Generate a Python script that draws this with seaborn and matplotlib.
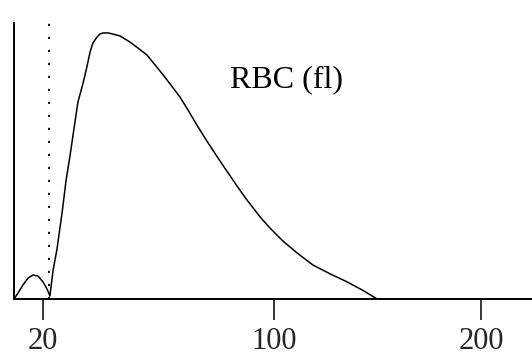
import numpy as np
import pandas as pd
import matplotlib
matplotlib.use("Agg")
import matplotlib.pyplot as plt
import seaborn as sns

# Data (volume in fl, relative count)
volume_fl = [0.0, 2.8, 6.2, 9.7, 13.1, 16.6, 20.0, 21.4, 22.4,
             23.5, 24.8, 26.6, 28.0, 29.4, 30.4, 32.1, 33.9, 35.2, 36.3,
             37.3, 38.7, 39.7, 40.8,
             42.5, 44.2, 46.7, 50.1, 52.9, 56.0, 58.8, 61.6, 64.3, 67.4,
             70.2, 73.3, 76.1, 79.2, 82.0, 84.8, 87.2, 90.6, 95.2, 98.6,
             104.3, 111.1, 118.8, 127.1, 135.3, 142.5, 149.8]
count = [0.0, 2.2, 5.1, 7.6, 8.7, 8.3, 6.2, 3.6, 1.1,
         10.5, 17.8, 31.2, 43.1, 52.2, 59.4, 71.4, 78.3, 84.1, 89.5,
         92.8, 94.9, 96.0, 96.4,
         96.4, 96.0, 95.3, 93.1, 90.9, 88.4, 84.8, 81.2, 77.5, 73.2,
         68.5, 63.0, 58.3, 53.3, 48.9, 44.6, 40.9, 35.9, 29.7, 25.7,
         21.0, 16.7, 12.3, 9.1, 6.2, 3.3, 0.0]
tick_values = [20, 100, 200]
tick_labels = ["20", "100", "200"]
threshold_fl = 22.2
label_text = "RBC (fl)"

# Non-uniform axis of the original drawing (piecewise linear)
knots_fl = np.array([0.0, 20.0, 100.0, 200.0, 300.0])
knots_pos = np.array([14.0, 43.0, 274.0, 481.0, 688.0])

def fwd(x):
    return np.interp(x, knots_fl, knots_pos)

def inv(t):
    return np.interp(t, knots_pos, knots_fl)

sns.set_style("white")
plt.rcParams["font.family"] = ["Liberation Serif", "DejaVu Serif"]

df = pd.DataFrame({"volume": volume_fl, "count": count})

fig = plt.figure(figsize=(5.32, 3.56), dpi=100)
ax = fig.add_axes([14 / 532, 1 - 299 / 356, 1 - 14 / 532, (299 - 10) / 356])

sns.lineplot(data=df, x="volume", y="count", ax=ax, color="black",
             linewidth=1.1, sort=False, estimator=None)

ax.set_xscale("function", functions=(fwd, inv))
ax.set_xlim(0, 224.6)
ax.set_ylim(0, (299 - 10) / 2.76)

ax.plot([threshold_fl, threshold_fl], [0, (299 - 15) / 2.76], color="black",
        linewidth=1.3, linestyle=(0, (1.2, 6)))

ax.set_xticks(tick_values)
ax.set_xticklabels(tick_labels)
ax.set_yticks([])
ax.tick_params(axis="x", direction="out", length=15, width=1.1,
               color="black", labelsize=22, pad=5, bottom=True)
ax.set_xlabel("")
ax.set_ylabel("")

for s in ["top", "right"]:
    ax.spines[s].set_visible(False)
ax.spines["left"].set_bounds(0, 100)
ax.spines["left"].set_linewidth(1.4)
ax.spines["bottom"].set_linewidth(1.4)
ax.spines["left"].set_color("black")
ax.spines["bottom"].set_color("black")

fig.text(230 / 532, 1 - 87 / 356, label_text, fontsize=23, ha="left",
         va="baseline", color="black")

fig.savefig("out.png", dpi=100)
